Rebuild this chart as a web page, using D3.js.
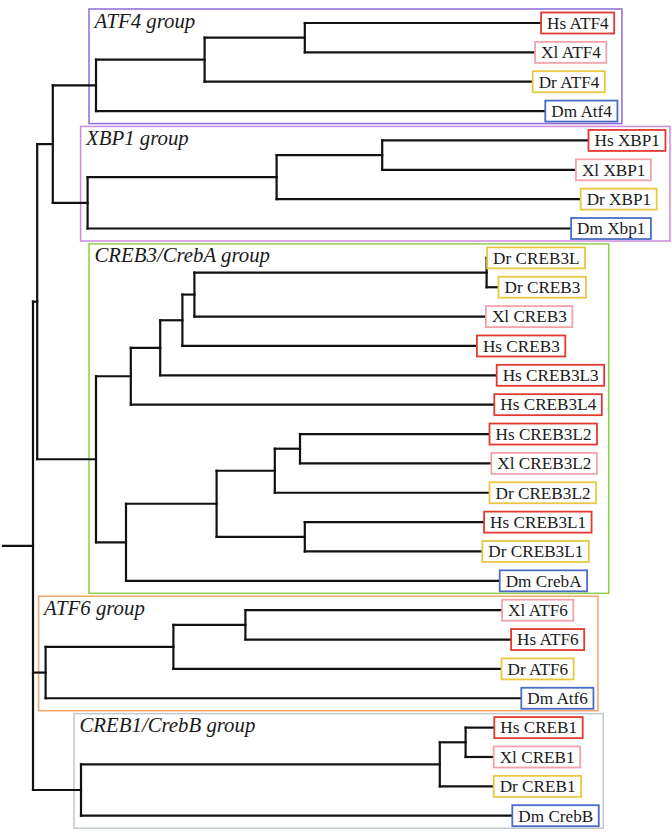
<!DOCTYPE html>
<html>
<head>
<meta charset="utf-8">
<script src="https://cdn.jsdelivr.net/npm/d3@7"></script>
<style>
  html, body { margin: 0; padding: 0; background: #fff; }
  svg { display: block; }
</style>
</head>
<body>
<svg id="chart" width="672" height="833"></svg>
<script>
// ---------------- DATA ----------------
// Tree topology with branch lengths (Newick), leaves listed top to bottom
const newick = "((((((Hs ATF4:0.393,Xl ATF4:0.383):0.167,Dr ATF4:0.546):0.181,Dm Atf4:0.748):0.072,(((Hs XBP1:0.343,Xl XBP1:0.322):0.176,Dr XBP1:0.506):0.315,Dm Xbp1:0.805):0.058):0.026,((((((Dr CREB3L:0,Dr CREB3:0.019):0.487,Xl CREB3:0.485):0.020,Hs CREB3:0.490):0.037,Hs CREB3L3:0.560):0.049,Hs CREB3L4:0.605):0.058,((((Hs CREB3L2:0.315,Xl CREB3L2:0.318):0.042,Dr CREB3L2:0.357):0.097,(Hs CREB3L1:0.298,Dr CREB3L1:0.295):0.147):0.151,Dm CrebA:0.622):0.050):0.098):0.007,(((Xl ATF6:0.427,Hs ATF6:0.442):0.120,Dr ATF6:0.546):0.213,Dm Atf6:0.792):0.021,(((Hs CREB1:0.047,Xl CREB1:0.046):0.043,Dr CREB1:0.089):0.598,Dm CrebB:0.718):0.080):0.050;";

const speciesCodes  = ["Hs", "Xl", "Dr", "Dm"];
const speciesColors = ["#e23a2f", "#f4a2aa", "#e8c840", "#4a6cc5"];

const groupNames  = ["ATF4 group", "XBP1 group", "CREB3/CrebA group", "ATF6 group", "CREB1/CrebB group"];
const groupFirst  = ["Hs ATF4", "Hs XBP1", "Dr CREB3L", "Xl ATF6", "Hs CREB1"];
const groupLast   = ["Dm Atf4", "Dm Xbp1", "Dm CrebA", "Dm Atf6", "Dm CrebB"];
const groupColors = ["#8b6bd9", "#d08ae0", "#8ccf4a", "#f5a66c", "#c0c9cc"];

// ---------------- PARSER ----------------
function parseNewick(s) {
  let i = 0;
  function node() {
    const n = { children: [] };
    if (s[i] === "(") {
      i++;
      n.children.push(node());
      while (s[i] === ",") { i++; n.children.push(node()); }
      i++; // ')'
    }
    let name = "";
    while (i < s.length && !":,);".includes(s[i])) name += s[i++];
    n.name = name.trim();
    if (s[i] === ":") {
      i++;
      let num = "";
      while (i < s.length && !",);".includes(s[i])) num += s[i++];
      n.length = +num;
    } else n.length = 0;
    if (!n.children.length) delete n.children;
    return n;
  }
  return node();
}

// ---------------- LAYOUT ----------------
const svg = d3.select("#chart");
const root = d3.hierarchy(parseNewick(newick));
root.eachBefore(d => { d.depthLen = (d.parent ? d.parent.depthLen : 0) + d.data.length; });

const leaves = root.leaves();
const x = d3.scaleLinear().domain([0, 1]).range([3, 603]);
const y = d3.scalePoint().domain(leaves.map(d => d.data.name)).range([23, 815.7]);

root.eachAfter(d => {
  d.px = x(d.depthLen);
  if (!d.children) d.py = y(d.data.name);
  else d.py = (d.children[0].py + d.children[d.children.length - 1].py) / 2;
});

const gGroups = svg.append("g");
const gTree = svg.append("g");
const gLabels = svg.append("g");

const FONT = "'Liberation Serif', 'Times New Roman', serif";

// ---------------- TREE ----------------
const lineStyle = sel => sel.attr("stroke", "#111").attr("stroke-width", 2.2)
  .attr("stroke-linecap", "square").attr("fill", "none");

root.descendants().forEach(d => {
  const px0 = d.parent ? d.parent.px : x(0);
  gTree.append("line").attr("x1", px0).attr("x2", d.px)
    .attr("y1", d.py).attr("y2", d.py).call(lineStyle);
  if (d.children) {
    gTree.append("line").attr("x1", d.px).attr("x2", d.px)
      .attr("y1", d.children[0].py).attr("y2", d.children[d.children.length - 1].py)
      .call(lineStyle);
  }
});

// ---------------- LEAF LABELS ----------------
const labelRight = {};
leaves.forEach(d => {
  const name = d.data.name;
  const col = speciesColors[speciesCodes.indexOf(name.split(" ")[0])];
  const g = gLabels.append("g");
  const rect = g.append("rect");
  const t = g.append("text")
    .attr("x", d.px + 6.5).attr("y", d.py + 5.8)
    .attr("font-family", FONT)
    .attr("font-size", 17.2).attr("fill", "#1a1a1a")
    .text(name);
  const w = t.node().getComputedTextLength();
  rect.attr("x", d.px + 0.5).attr("y", d.py - 10.5)
    .attr("width", w + 11.5).attr("height", 21)
    .attr("fill", "#fff").attr("stroke", col).attr("stroke-width", 1.8);
  labelRight[name] = d.px + 0.5 + w + 11.5;
});

// ---------------- GROUP BOXES ----------------
const byName = {};
leaves.forEach(d => byName[d.data.name] = d);
groupNames.forEach((gn, i) => {
  const a = byName[groupFirst[i]], b = byName[groupLast[i]];
  const anc = new Set(b.ancestors());
  const lca = a.ancestors().find(n => anc.has(n));
  const members = lca.leaves();
  const right = d3.max(members, m => labelRight[m.data.name]) + 4.5;
  const left = lca.px - 7;
  const top = Math.max(4.5, a.py - 14);
  const bottom = b.py + 12.5;
  gGroups.append("rect")
    .attr("x", left).attr("y", top)
    .attr("width", right - left).attr("height", bottom - top)
    .attr("fill", "none").attr("stroke", groupColors[i]).attr("stroke-width", 1.5);
  gGroups.append("text")
    .attr("x", left + 5.5).attr("y", top + 18.5)
    .attr("font-family", FONT)
    .attr("font-style", "italic").attr("font-size", 20.8).attr("fill", "#1a1a1a")
    .text(gn);
});
</script>
</body>
</html>
